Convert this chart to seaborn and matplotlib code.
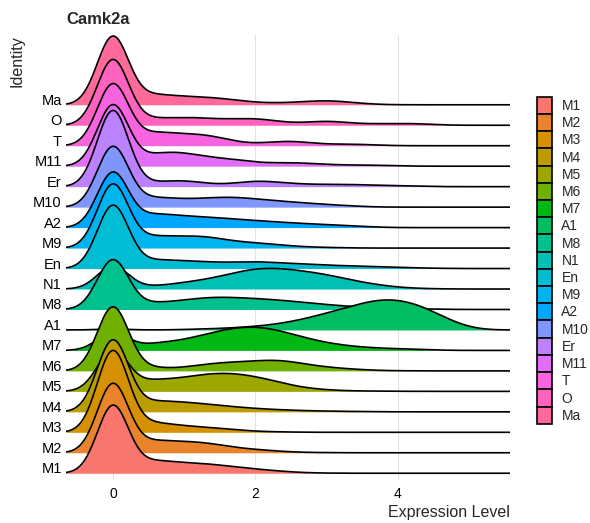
import numpy as np
import pandas as pd
import seaborn as sns
import matplotlib.pyplot as plt
import matplotlib.transforms as mtransforms
from matplotlib.patches import Patch

# Camk2a expression (log-normalised) per identity, binned.
# First bin holds the cells with zero counts, the rest are the expressing cells.
expr_levels = [0.0, 0.5, 0.75, 1.0, 1.25, 1.5, 1.75, 2.0, 2.25, 2.5,
               2.75, 3.0, 3.25, 3.5, 3.75, 4.0, 4.25, 4.5, 4.75, 5.0]

identities = ["M1", "M2", "M3", "M4", "M5", "M6", "M7", "A1", "M8", "N1",
              "En", "M9", "A2", "M10", "Er", "M11", "T", "O", "Ma"]

# relative cell counts per bin
M1 = [148, 16, 11.7, 10.7, 10, 8.3, 6, 4.3, 2.7, 1.3, 0.3, 0.2, 0, 0, 0, 0, 0, 0, 0, 0]
M2 = [147, 14.3, 11.7, 11, 10.7, 7.7, 4.7, 3.3, 2, 0.7, 0.3, 0.2, 0, 0, 0, 0, 0, 0, 0, 0]
M3 = [178, 12.7, 8.3, 6.7, 5.3, 4, 2.3, 1, 0.5, 0.3, 0, 0, 0, 0, 0, 0, 0, 0, 0, 0]
M4 = [155, 12.3, 10.7, 9.7, 8.3, 6.3, 4.7, 3.3, 2.3, 1.7, 1, 0.7, 0.5, 0.3, 0, 0, 0, 0, 0, 0]
M5 = [89, 14, 11.5, 14, 17, 18.7, 18, 15, 11, 6, 3, 1.5, 0.7, 0.3, 0.3, 0.1, 0, 0, 0, 0]
M6 = [142, 5, 2.3, 3.3, 6.7, 8.3, 9.3, 10, 11.7, 10, 6, 4, 2.3, 1.3, 0.3, 0.2, 0, 0, 0, 0]
M7 = [39, 7.7, 8.3, 10.7, 15, 20, 23.3, 24.3, 21.7, 16.7, 11.7, 7.7, 5, 3.3, 2.3, 1.7, 1.2, 0.5, 0, 0]
A1 = [2, 0, 0, 0.5, 1, 1.5, 2.5, 3.7, 5.5, 8.5, 12.5, 17.5, 22.5, 28, 32.5, 32, 28, 19.5, 9.5, 2.5]
M8 = [111, 8, 7.3, 9.7, 12, 13, 12, 11.3, 10, 8.7, 6.7, 5, 3.5, 2.5, 1.5, 1, 0.7, 0.5, 0, 0]
N1 = [50, 3, 4, 6.7, 9, 12.3, 17.3, 20.7, 21.3, 19.7, 17.3, 14.7, 10.7, 6.7, 4, 1.7, 0.7, 0.3, 0, 0]
En = [134, 10, 8.3, 7.7, 6.7, 6, 6, 7.3, 5.7, 5, 4.3, 3.3, 2.7, 2.3, 1.7, 1, 0.7, 0.3, 0.1, 0]
M9 = [142, 14.7, 12, 12, 13, 9.7, 6.3, 5.7, 3.7, 2.3, 1, 0.7, 0.3, 0, 0, 0, 0, 0, 0, 0]
A2 = [118, 16.3, 13, 11.3, 10.7, 9.7, 8, 7, 5.7, 4.7, 3.7, 3, 2, 1.3, 0.3, 0, 0, 0, 0, 0]
M10 = [134, 12, 9.3, 8.3, 8.7, 10.3, 10.3, 8.3, 6.7, 5.3, 4, 2.7, 1.7, 0.7, 0, 0, 0, 0, 0, 0]
Er = [167, 4, 5.7, 7, 4, 1.7, 3.7, 6.7, 5, 3.3, 2.3, 2.3, 2.3, 2, 1.3, 1, 0.7, 0, 0, 0]
M11 = [136, 12.7, 15.3, 14.3, 10.3, 8, 7, 3.7, 3, 4.3, 2.7, 2, 1, 1.3, 1, 0.3, 0, 0, 0, 0]
T = [134, 16, 13.3, 11.7, 12, 8.5, 3.5, 1.7, 4, 5.3, 3, 1.3, 1.7, 1.5, 0.5, 0, 0, 0, 0, 0]
O = [151, 8.7, 7.3, 8.7, 8, 6, 7.3, 7.5, 5.3, 2, 3, 5.5, 3, 1.3, 1.7, 2, 2, 0.7, 0, 0]
Ma = [158, 14, 10, 9, 8.5, 7, 5, 2.3, 2, 2.3, 3.7, 5, 3.5, 1.3, 0.3, 0, 0, 0, 0, 0]

cell_counts = [M1, M2, M3, M4, M5, M6, M7, A1, M8, N1,
               En, M9, A2, M10, Er, M11, T, O, Ma]

BW = 0.22            # joint bandwidth, as ggridges picks one for all ridges
RIDGE_SCALE = 4      # tallest ridge spans 4 rows (Seurat RidgePlot)
XLIM = (-0.66, 5.58)

df = pd.concat(
    [pd.DataFrame({"identity": name, "level": expr_levels, "cells": counts})
     for name, counts in zip(identities, cell_counts)],
    ignore_index=True,
)


def hue_pal(n, l=65, c=100):
    # ggplot2 default discrete palette (HCL hues starting at 15 degrees)
    hues = np.linspace(15, 375, n + 1)[:-1]
    xn, yn, zn = 0.95047, 1.0, 1.08883
    un = 4 * xn / (xn + 15 * yn + 3 * zn)
    vn = 9 * yn / (xn + 15 * yn + 3 * zn)
    y = ((l + 16) / 116) ** 3
    out = []
    for h in hues:
        u = c * np.cos(np.radians(h))
        v = c * np.sin(np.radians(h))
        up = u / (13 * l) + un
        vp = v / (13 * l) + vn
        x = y * 9 * up / (4 * vp)
        z = y * (12 - 3 * up - 20 * vp) / (4 * vp)
        rgb = np.array([
            3.2404542 * x - 1.5371385 * y - 0.4985314 * z,
            -0.9692660 * x + 1.8760108 * y + 0.0415560 * z,
            0.0556434 * x - 0.2040259 * y + 1.0572252 * z,
        ])
        rgb = np.where(rgb <= 0.0031308, 12.92 * rgb,
                       1.055 * np.abs(rgb) ** (1 / 2.4) - 0.055)
        out.append(tuple(np.clip(rgb, 0, 1)))
    return out


palette = hue_pal(len(identities))

sns.set_theme(style="white")
plt.rcParams["font.family"] = ["Liberation Sans", "DejaVu Sans"]

fig = plt.figure(figsize=(5.9, 5.23), dpi=100)
ax = fig.add_axes([66 / 590, 1 - 480 / 523, (510 - 66) / 590, (480 - 35) / 523])

ridges = []
for name, col in zip(identities, palette):
    sub = df[(df["identity"] == name) & (df["cells"] > 0)]
    w = sub["cells"] / sub["cells"].sum()
    mu = (w * sub["level"]).sum()
    var = (w * (sub["level"] - mu) ** 2).sum() / (1 - (w ** 2).sum())
    bw = BW / np.sqrt(var)

    n_coll, n_lines = len(ax.collections), len(ax.lines)
    sns.kdeplot(data=sub, x="level", weights="cells", bw_method=bw, fill=True,
                color=col, alpha=1, linewidth=0, clip=XLIM, cut=30,
                gridsize=800, ax=ax)
    sns.kdeplot(data=sub, x="level", weights="cells", bw_method=bw,
                color="black", linewidth=1.2, clip=XLIM, cut=30,
                gridsize=800, ax=ax)
    ridges.append((ax.collections[n_coll:], ax.lines[n_lines:]))

# stack the ridges: common height scale, lower rows drawn on top
dmax = max(ln.get_ydata().max() for _, lines in ridges for ln in lines)
scale = RIDGE_SCALE / dmax
top = 0
for i, (fills, lines) in enumerate(ridges):
    trans = mtransforms.Affine2D().scale(1, scale).translate(0, i) + ax.transData
    z = 10 + 2 * (len(ridges) - i)
    for art in fills:
        art.set_transform(trans)
        art.set_zorder(z)
    for ln in lines:
        ln.set_transform(trans)
        ln.set_zorder(z + 1)
        top = max(top, i + ln.get_ydata().max() * scale)

ax.set_xlim(*XLIM)
ax.set_ylim(-0.33, top + 0.05)
ax.set_xticks([0, 2, 4])
ax.set_yticks(range(len(identities)))
ax.set_yticklabels(identities)
for lbl in ax.get_yticklabels():
    lbl.set_va("baseline")
ax.tick_params(axis="both", length=0, colors="black")
ax.tick_params(axis="y", pad=3, labelsize=10.5)
ax.tick_params(axis="x", pad=5, labelsize=10)
ax.grid(axis="x", color="#E2E2E2", linewidth=0.8)
ax.grid(axis="y", visible=False)
ax.set_axisbelow(True)
for sp in ax.spines.values():
    sp.set_visible(False)

ax.set_xlabel("Expression Level", fontsize=11.5, loc="right", labelpad=3)
ax.set_ylabel("Identity", fontsize=11.5, loc="top", labelpad=6)
ax.set_title("Camk2a", loc="left", fontsize=12, fontweight="bold", pad=8)

handles = [Patch(facecolor=c, edgecolor="black", linewidth=1.2) for c in palette]
fig.legend(handles, identities, loc="upper left",
           bbox_to_anchor=(536.7 / 590, 1 - 96.7 / 523),
           bbox_transform=fig.transFigure, frameon=False, fontsize=10,
           borderpad=0, borderaxespad=0, labelspacing=0,
           handlelength=1.08, handleheight=1.53, handletextpad=0.7)

fig.savefig("out.png", dpi=100)
